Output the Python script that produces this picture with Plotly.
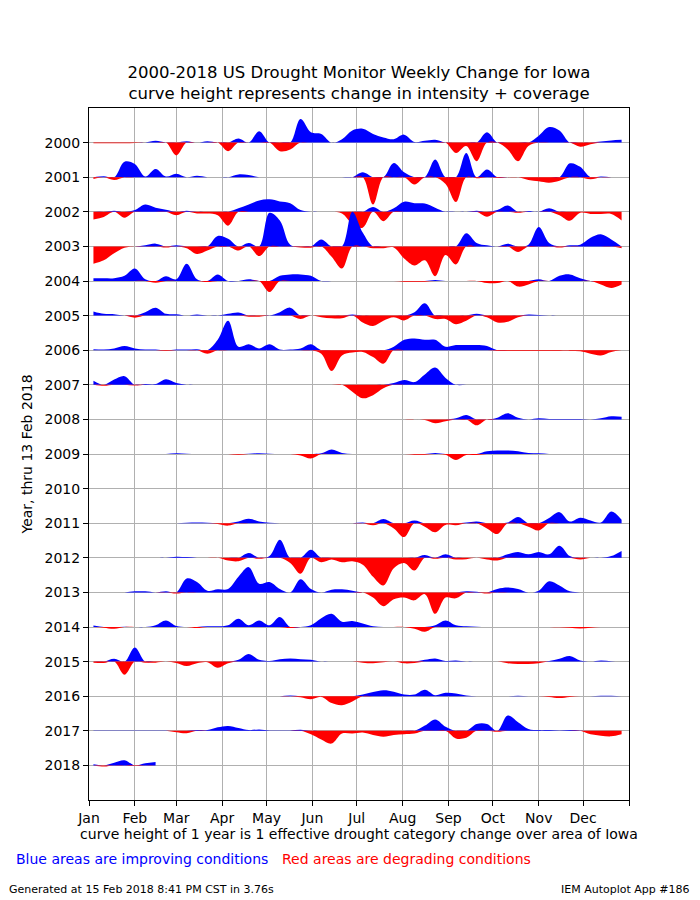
from datetime import datetime, timedelta
import plotly.graph_objects as go

# weekly change (curve height, in "year rows"), Jan..Dec
chg_2000 = [-0.02, -0.02, -0.02, -0.02, -0.01, 0, 0.05, 0, -0.37, 0.04, 0, 0.04, 0,
            -0.25, 0.12, 0, 0.33, 0, -0.25, -0.2, 0.68, 0.3, 0.25, 0, 0.1, 0.35,
            0.4, 0.25, 0.15, 0.1, 0.23, 0.02, 0.05, 0.08, 0, -0.3, -0.1, -0.54, 0.3,
            0, -0.2, -0.54, -0.1, 0.2, 0.45, 0.35, 0, -0.12, -0.05, 0.03, 0.06, 0.08]
chg_2001 = [-0.05, 0.03, -0.08, 0.45, 0.38, 0.02, 0.24, 0.02, 0.1, 0, 0.04, 0, 0,
            0, 0.08, 0.06, 0, 0, 0, 0, 0, 0, 0, 0, 0, 0,
            0.14, -0.79, 0, 0.41, 0.14, -0.21, 0, 0.51, -0.2, -0.72, 0.7, -0.03, 0.22,
            -0.02, 0, 0, -0.08, -0.12, -0.16, -0.1, 0.4, 0.3, -0.06, 0.02, 0, 0]
chg_2002 = [-0.22, -0.15, 0.03, -0.17, 0.05, 0.21, 0.12, 0.06, -0.1, 0.03, -0.05, -0.05, -0.1,
            -0.4, 0.1, 0.21, 0.33, 0.36, 0.3, 0.25, 0.05, 0, 0, 0, -0.05, -0.35,
            -0.46, 0.14, -0.27, 0.1, 0.29, 0.25, 0.24, 0.12, 0, 0, 0, 0.03, -0.14,
            0.05, 0.18, -0.03, 0.02, 0, 0.1, -0.1, -0.26, -0.03, -0.06, -0.06, -0.06, -0.25]
chg_2003 = [-0.5, -0.4, -0.2, -0.04, 0, 0.03, 0.08, -0.03, 0.03, -0.05, -0.22, -0.12, 0.3,
            0.22, -0.12, 0.1, -0.28, 0.97, 0.75, 0.05, -0.03, -0.04, 0.2, -0.3, -0.64, 1.0,
            0.4, -0.05, -0.05, -0.03, -0.35, -0.55, -0.4, -0.86, -0.25, -0.52, 0.38, 0.1, 0.03,
            0, 0.08, -0.16, 0.05, 0.56, 0.1, -0.03, 0.03, 0.05, 0.25, 0.35, 0.2, -0.05]
chg_2004 = [0.08, 0.08, 0.08, 0.15, 0.36, 0.05, -0.05, 0.14, 0.05, 0.5, 0.05, -0.03, 0.19,
            0, 0, 0.05, 0, -0.32, 0.15, 0.19, 0.19, 0.15, 0, 0, 0, 0,
            0, 0, 0, 0, -0.02, -0.02, -0.02, 0.03, 0, 0, 0, 0, -0.06,
            -0.06, 0, -0.16, -0.1, 0.05, 0, 0.15, 0.19, 0.08, 0, -0.1, -0.2, -0.1]
chg_2005 = [0.12, 0.05, 0.04, 0, -0.06, 0.1, 0.23, 0.05, 0.04, 0, 0.03, 0, 0,
            0.05, 0.09, -0.03, -0.03, 0, 0.1, 0.23, -0.1, 0, -0.05, -0.08, -0.08, 0.03,
            -0.2, -0.3, -0.15, -0.05, -0.14, 0.1, 0.36, -0.1, -0.1, -0.25, -0.15, 0.05, -0.05,
            -0.2, -0.18, -0.05, 0.03, 0.02, 0, 0, 0, 0, 0, 0, 0, 0]
chg_2006 = [0.03, 0.02, 0.05, 0.12, 0.05, 0.02, 0.02, -0.02, 0.02, 0.02, 0.03, -0.1, 0.3,
            0.85, 0.1, 0.17, 0.05, 0.17, 0.02, 0.02, 0.05, 0.17, -0.1, -0.6, -0.15, -0.07,
            -0.05, -0.2, -0.39, 0.1, 0.3, 0.34, 0.3, 0.3, 0.1, 0.15, 0.15, 0.15, 0.12,
            -0.02, -0.02, -0.02, -0.02, -0.02, -0.02, -0.02, -0.02, -0.03, -0.1, -0.15, -0.05, 0]
chg_2007 = [0.12, -0.03, 0.15, 0.25, -0.02, 0.02, 0.02, 0.16, 0.05, 0, 0, 0, 0,
            0, 0, 0, 0, 0, 0, 0, 0, 0, 0, 0, 0, -0.2,
            -0.39, -0.3, -0.1, 0.05, 0.14, 0.08, 0.3, 0.5, 0.2, 0, 0, 0, 0,
            0, 0, 0, 0, 0, 0, 0, 0, 0, 0, 0, 0, 0]
chg_2008 = [0, 0, 0, 0, 0, 0, 0, 0, 0, 0, 0, 0, 0,
            0, 0, 0, 0, 0, 0, 0, 0, 0, 0, 0, 0, 0,
            0, 0, 0, 0, 0, 0, -0.02, -0.11, -0.05, 0.03, 0.13, -0.17, 0,
            0.05, 0.18, 0.05, 0, 0.03, 0.01, 0.01, 0.01, 0.01, 0, 0.03, 0.09, 0.08]
chg_2009 = [0, 0, 0, 0, 0, 0, 0, 0, 0.02, 0.01, 0, 0, 0,
            0, -0.02, 0.01, 0.02, 0.01, 0, 0, -0.04, -0.13, 0.02, 0.13, 0.03, 0,
            0, 0, 0, 0, 0, -0.02, -0.02, 0.03, -0.02, -0.17, -0.03, -0.03, 0.08,
            0.1, 0.1, 0.08, 0.03, 0.02, 0, 0, 0, 0, 0, 0, 0, 0]
chg_2010 = [0] * 52
chg_2011 = [0, 0, 0, 0, 0, 0, 0, 0, 0, 0.01, 0.02, 0.01, -0.02,
            -0.07, 0.05, 0.13, 0.05, 0.01, 0, 0, 0, 0, 0, 0, 0, 0,
            0.02, -0.06, 0.12, -0.15, -0.4, 0.08, -0.1, -0.26, -0.05, -0.06, 0.02, 0.05, -0.15,
            -0.31, 0.02, 0.18, -0.1, -0.21, 0.15, 0.32, 0.05, 0.16, 0.08, 0.02, 0.34, 0.1]
chg_2012 = [0, 0, 0, 0, 0, 0, 0, 0, 0.03, 0.02, 0, 0, 0,
            -0.08, -0.1, 0.14, -0.03, 0.05, 0.52, -0.15, -0.46, 0.23, -0.13, -0.05, -0.13, -0.1,
            -0.2, -0.55, -0.8, -0.3, -0.15, -0.37, 0.08, -0.03, 0.1, -0.05, -0.04, 0, -0.05,
            -0.08, 0.1, 0.17, 0.1, 0.17, 0.1, 0.35, 0.05, -0.05, 0, 0, 0.05, 0.2]
chg_2013 = [0, 0, 0, 0, 0.03, 0.03, 0, 0.03, -0.03, 0.4, 0.3, 0.05, 0.09,
            0.1, 0.45, 0.73, 0.25, 0.3, 0.1, 0, 0.38, 0.1, 0, 0.08, 0.09, 0.05,
            0, -0.15, -0.4, -0.2, -0.15, -0.23, -0.05, -0.62, -0.15, -0.17, 0.03, 0.02, -0.03,
            0.1, 0.14, 0.1, 0, 0.05, 0.32, 0.2, 0.03, 0, 0, 0, 0, 0]
chg_2014 = [0.04, -0.02, -0.05, 0.01, 0, 0, 0.05, 0.19, 0.03, 0, -0.03, 0.02, 0.02,
            0.05, 0.24, 0.05, 0.19, 0.05, 0.29, -0.03, 0, 0.05, 0.25, 0.38, 0.15, 0.17,
            0.1, 0.02, 0, 0, 0, -0.05, -0.14, 0.05, 0.19, 0.05, 0.02, 0.01, 0,
            0, 0, 0, 0, 0, 0, -0.01, -0.02, -0.04, -0.02, 0, 0, 0]
chg_2015 = [-0.03, -0.04, 0.08, -0.38, 0.41, -0.03, -0.03, 0, -0.04, -0.13, -0.05, -0.02, -0.18,
            -0.05, 0.05, 0.22, 0.05, 0.02, 0.07, 0.09, 0.07, 0.05, 0, 0, 0, 0,
            -0.03, -0.05, -0.02, 0, -0.05, -0.04, 0.05, 0.09, 0.02, 0.03, 0, 0, 0,
            0, -0.05, -0.07, -0.07, -0.05, 0.02, 0.08, 0.16, 0.03, 0, 0.03, 0.01, 0]
chg_2016 = [0, 0, 0, 0, 0, 0, 0, 0, 0, 0, 0, 0, 0,
            0, 0, 0, 0, 0, 0, 0.02, -0.03, -0.09, -0.02, -0.2, -0.26, -0.15,
            0.05, 0.12, 0.17, 0.13, 0.05, 0.05, 0.19, 0.03, 0.1, 0.08, 0.02, 0, 0,
            0, 0, 0.01, 0, 0, -0.02, -0.05, -0.02, 0, 0, 0.01, 0.01, 0]
chg_2017 = [0.01, 0.01, 0.01, 0.01, 0.01, 0.01, 0.01, 0.01, -0.04, -0.07, 0.02, 0.02, 0.1,
            0.14, 0.08, 0.02, 0.04, 0.01, 0.01, 0.01, 0.03, -0.1, -0.25, -0.37, -0.08, -0.08,
            -0.05, -0.12, -0.17, -0.12, -0.1, -0.08, 0.15, 0.33, 0.12, -0.22, -0.2, 0.2, 0.2,
            -0.03, 0.44, 0.25, 0.05, 0.02, 0.02, 0.01, 0.02, 0.01, -0.1, -0.14, -0.16, -0.1]
chg_2018 = [0.03, -0.03, 0.08, 0.15, -0.02, 0.06, 0.1]

years = list(range(2000, 2019))
changes = [chg_2000, chg_2001, chg_2002, chg_2003, chg_2004, chg_2005, chg_2006,
           chg_2007, chg_2008, chg_2009, chg_2010, chg_2011, chg_2012, chg_2013,
           chg_2014, chg_2015, chg_2016, chg_2017, chg_2018]
month_labels = ['Jan', 'Feb', 'Mar', 'Apr', 'May', 'Jun',
                'Jul', 'Aug', 'Sep', 'Oct', 'Nov', 'Dec', '']

# all years drawn against one dummy calendar year
week_dates = [datetime(2001, 1, 4) + timedelta(days=7 * k) for k in range(52)]
month_ticks = [datetime(2001, m, 1) for m in range(1, 13)] + [datetime(2002, 1, 1)]

fig = go.Figure()
for yr, vals in zip(years, changes):
    x = week_dates[:len(vals)]
    base = [yr] * len(vals)
    for sign, color in ((1, 'blue'), (-1, 'red')):
        part = [max(sign * v, 0) for v in vals]
        # baseline first, then the curve fills back to it
        fig.add_trace(go.Scatter(x=x, y=base, mode='lines', line=dict(width=0),
                                 hoverinfo='skip', showlegend=False))
        fig.add_trace(go.Scatter(x=x, y=[yr - sign * p for p in part], mode='lines',
                                 line=dict(width=0, shape='spline', smoothing=1.0),
                                 fill='tonexty', fillcolor=color,
                                 hoverinfo='skip', showlegend=False))

fnt = "DejaVu Sans"
fig.update_layout(
    width=700, height=900,
    margin=dict(l=89, r=71, t=108, b=100),
    paper_bgcolor='white', plot_bgcolor='white',
    font=dict(family=fnt, size=14, color='black'),
    title=dict(text="2000-2018 US Drought Monitor Weekly Change for Iowa<br>"
                    "curve height represents change in intensity + coverage",
               x=0.5, xref='paper', xanchor='center',
               y=1 - 78 / 900, yref='container', yanchor='top',
               font=dict(family=fnt, size=16.5)),
    xaxis=dict(type='date', range=[month_ticks[0], month_ticks[-1]],
               tickvals=month_ticks, ticktext=month_labels,
               ticks='outside', ticklen=5, tickcolor='black',
               showline=True, linecolor='black', linewidth=1, mirror=True,
               showgrid=True, gridcolor='#b0b0b0', gridwidth=1, zeroline=False,
               tickfont=dict(size=14),
               title=dict(text="curve height of 1 year is 1 effective drought category change over area of Iowa",
                          font=dict(size=14), standoff=4)),
    yaxis=dict(range=[2019, 1999], autorange=False,
               tickvals=years, ticktext=[str(y) for y in years],
               ticks='outside', ticklen=5, tickcolor='black',
               showline=True, linecolor='black', linewidth=1, mirror=True,
               showgrid=True, gridcolor='#b0b0b0', gridwidth=1, zeroline=False,
               tickfont=dict(size=14),
               title=dict(text="Year, thru 13 Feb 2018", font=dict(size=14), standoff=8)),
)

notes = [
    ("Blue areas are improving conditions", 14, 859, 'left', 'blue', 14),
    ("Red areas are degrading conditions", 280, 859, 'left', 'red', 14),
    ("Generated at 15 Feb 2018 8:41 PM CST in 3.76s", 7, 889, 'left', 'black', 11),
    ("IEM Autoplot App #186", 692, 889, 'right', 'black', 11),
]
for txt, px, py, anchor, col, sz in notes:
    fig.add_annotation(text=txt, xref='paper', yref='paper',
                       x=(px - 89) / 540, y=(800 - py) / 692,
                       xanchor=anchor, yanchor='middle', showarrow=False,
                       font=dict(family=fnt, size=sz, color=col))

# page body has an 8px default margin; drop it so the figure sits at 0,0
fig.write_html("out.html", config={'displayModeBar': False},
               post_script="document.body.style.margin='0';")
